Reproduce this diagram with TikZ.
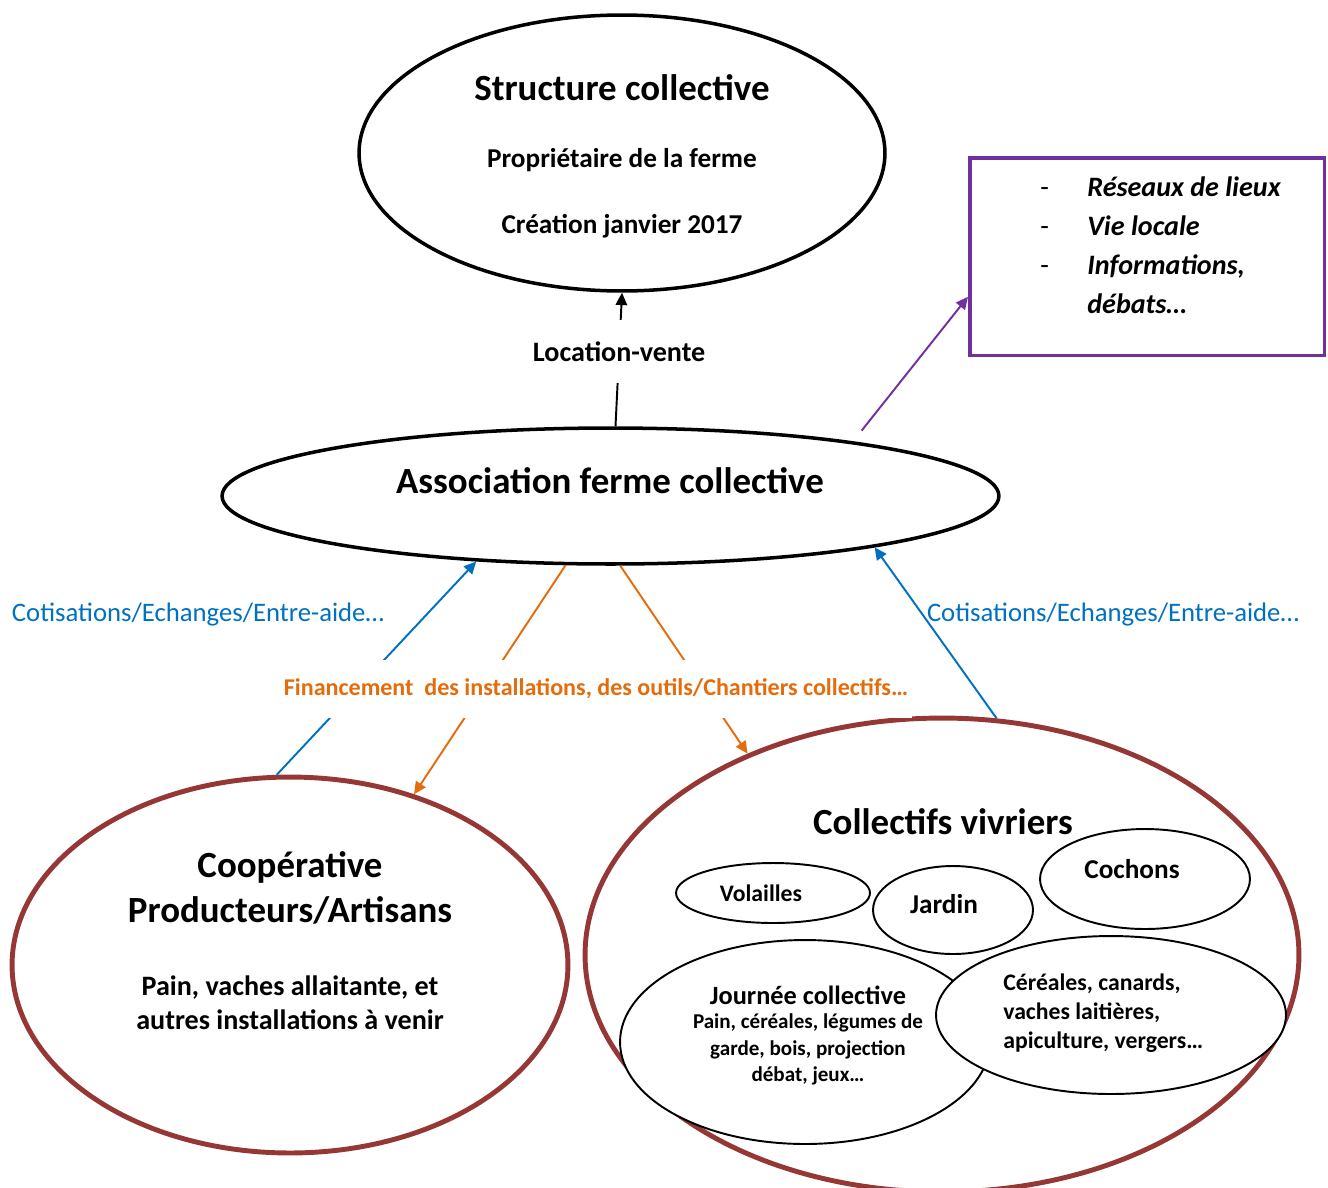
\documentclass[tikz,border=0pt]{standalone}
\usepackage{fontspec}
\setmainfont{Carlito}
\usetikzlibrary{shapes.geometric,arrows.meta}
\definecolor{brickred}{RGB}{149,55,53}
\definecolor{linkblue}{RGB}{0,112,192}
\definecolor{fundorange}{RGB}{228,108,10}
\definecolor{netpurple}{RGB}{112,48,160}
\newcommand{\fsbig}{\fontsize{21}{25.6}\selectfont\bfseries}
\newcommand{\fsmid}{\fontsize{15.5}{19.3}\selectfont\bfseries}
\newcommand{\fssmall}{\fontsize{13.5}{16.5}\selectfont\bfseries}

\begin{document}
\begin{tikzpicture}
		[x=0.02cm, y=-0.02cm,
		oval/.style ={ellipse, draw=black, line width=2pt, inner sep=0pt},
		redoval/.style ={ellipse, draw=brickred, line width=2.8pt, inner sep=0pt},
		subzone/.style ={ellipse, draw=black, line width=1.1pt, fill=white, inner sep=0pt},
		listbox/.style ={rectangle, draw=netpurple, line width=2pt, inner sep=0pt, anchor=north west},
		title/.style ={font=\fsbig, align=center, inner sep=0pt},
		sub/.style ={font=\fsmid, align=center, inner sep=0pt},
		tiny/.style ={font=\fssmall, align=center, inner sep=0pt},
		tip/.style ={-{Triangle[length=7pt,width=6.5pt]}, line width=1.1pt},
		]

		\useasboundingbox (0,0) rectangle (1328,1187);

		% main ovals
		\draw (622,153) node[oval, minimum width=10.52cm, minimum height=5.52cm] (SC) {};
		\draw (610.5,496) node[oval, minimum width=15.54cm, minimum height=2.72cm] (AS) {};
		\draw (290,965) node[redoval, minimum width=11.12cm, minimum height=7.52cm] (CP) {};
		\draw (942,955) node[redoval, minimum width=14.28cm, minimum height=9.48cm] (CV) {};
		\draw (968,156) node[listbox, minimum width=7.1cm, minimum height=3.96cm] (NET) {};

		% food collectives
		\draw (773,893) node[subzone, minimum width=3.88cm, minimum height=1.2cm] (VO) {};
		\draw (953,910) node[subzone, minimum width=3.2cm, minimum height=1.76cm] (JA) {};
		\draw (1145,879) node[subzone, minimum width=4.2cm, minimum height=2cm] (CO) {};
		\draw (805,1042) node[subzone, minimum width=7.4cm, minimum height=4.08cm] (JC) {};
		\draw (1111,1015) node[subzone, minimum width=7cm, minimum height=3.16cm] (CE) {};

		% texts
		\draw (622,88) node[title] (SC1) {Structure collective};
		\draw (622,160) node[sub] (SC2) {Propriétaire de la ferme};
		\draw (622,226) node[sub] (SC3) {Création janvier 2017};
		\draw (610,481) node[title] (AS1) {Association ferme collective};
		\draw (290,888) node[title] (CP1) {Coopérative\\Producteurs/Artisans};
		\draw (290,1003) node[sub, font=\fontsize{16}{19.3}\selectfont\bfseries] (CP2) {Pain, vaches allaitante, et\\autres installations à venir};
		\draw (943,822) node[title] (CV1) {Collectifs vivriers};
		\draw (761,893) node[tiny] (VO1) {Volailles};
		\draw (944,904) node[sub] (JA1) {Jardin};
		\draw (1132,869) node[sub] (CO1) {Cochons};
		\draw (808,995) node[sub, font=\fontsize{15}{18}\selectfont\bfseries] (JC1) {Journée collective};
		\draw (808,1049.5) node[tiny, font=\fontsize{12}{15}\selectfont\bfseries] (JC2) {Pain, céréales, légumes de\\garde, bois, projection\\débat, jeux…};
		\draw (1003,1013) node[tiny, anchor=west, align=left] (CE1) {Céréales, canards,\\vaches laitières,\\apiculture, vergers…};
		\draw (1040,245) node[anchor=west, align=left, inner sep=0pt,
			font=\fontsize{16}{22.2}\selectfont\bfseries\itshape] (NET1)
			{\makebox[0.94cm][l]{\mdseries\upshape -}Réseaux de lieux\\
			 \makebox[0.94cm][l]{\mdseries\upshape -}Vie locale\\
			 \makebox[0.94cm][l]{\mdseries\upshape -}Informations,\\
			 \hspace{0.94cm}débats…};

		% flows
		\path
		([xshift=0.1cm]AS.north) edge[tip, draw=black] node[fill=white, inner xsep=2pt, minimum height=1.26cm, pos=0.56,
			font=\fontsize{16}{19}\selectfont\bfseries] (LV) {Location-vente} (SC.south)
		([yshift=0.24cm]AS.12) edge[tip, draw=netpurple] ([yshift=-0.8cm]NET.west)
		(CP.94) edge[tip, draw=linkblue] (AS.206)
		(CV.77) edge[tip, draw=linkblue] (AS.349)
		(AS.237) edge[tip, draw=fundorange] (CP.54)
		(AS.278) edge[tip, draw=fundorange] (CV.134);

		\draw (198,615) node[font=\fontsize{15.2}{18}\selectfont, text=linkblue, inner sep=0pt] (CT1) {Cotisations/Echanges/Entre-aide…};
		\draw (1113,615) node[font=\fontsize{15.2}{18}\selectfont, text=linkblue, inner sep=0pt] (CT2) {Cotisations/Echanges/Entre-aide…};
		\draw (596,689) node[fill=white, text=fundorange, inner xsep=2pt, minimum height=1.16cm,
			font=\fontsize{13.7}{16}\selectfont\bfseries] (FIN) {Financement\ \ des installations, des outils/Chantiers collectifs…};

	\end{tikzpicture}
\end{document}
